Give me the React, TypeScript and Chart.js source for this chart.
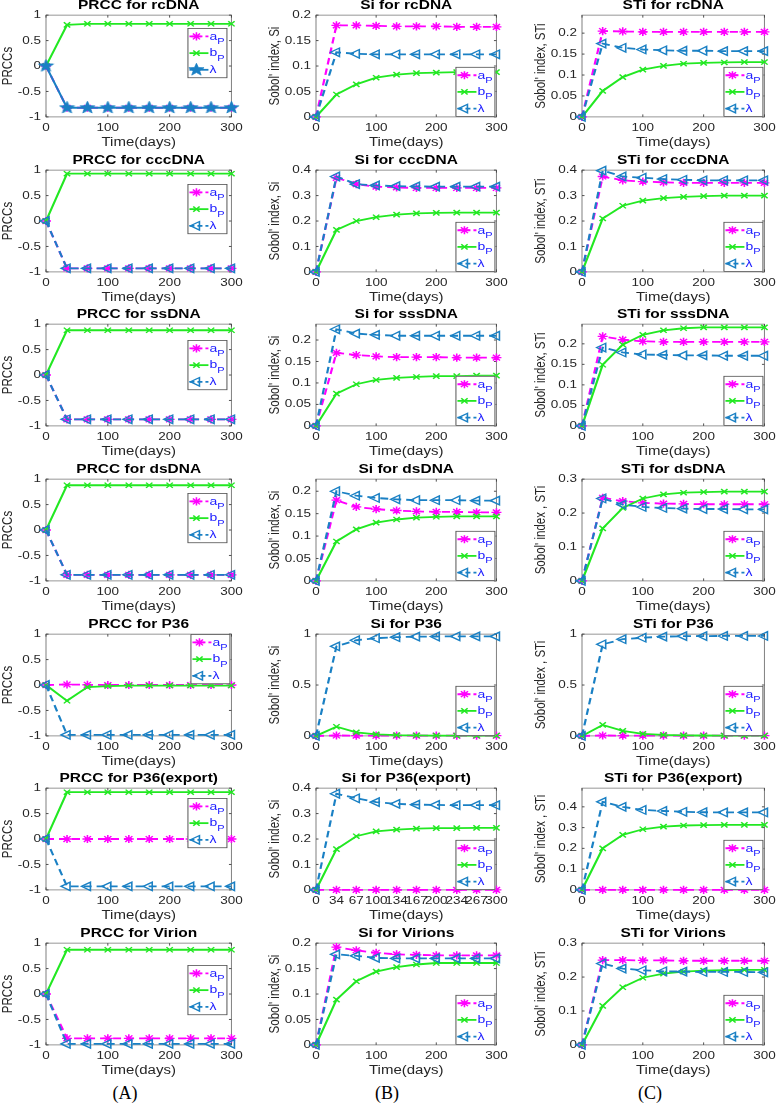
import React, { useEffect, useRef } from 'react';
import { Chart, registerables } from 'chart.js';
Chart.register(...registerables);

// ---------------- data ----------------
const DAYS = [0, 34, 67, 100, 134, 167, 200, 234, 267, 300];
const DAY_TICKS = [0, 100, 200, 300];

const PRCC_rcDNA_aP = [0, -0.82, -0.82, -0.82, -0.82, -0.82, -0.82, -0.82, -0.82, -0.82];
const PRCC_rcDNA_bP = [0, 0.81, 0.83, 0.83, 0.83, 0.83, 0.83, 0.83, 0.83, 0.83];
const PRCC_rcDNA_lam = [0, -0.82, -0.82, -0.82, -0.82, -0.82, -0.82, -0.82, -0.82, -0.82];
const PRCC_cccDNA_aP = [0, -0.93, -0.93, -0.93, -0.93, -0.93, -0.93, -0.93, -0.93, -0.93];
const PRCC_cccDNA_bP = [0, 0.93, 0.93, 0.93, 0.93, 0.93, 0.93, 0.93, 0.93, 0.93];
const PRCC_cccDNA_lam = [0, -0.93, -0.93, -0.93, -0.93, -0.93, -0.93, -0.93, -0.93, -0.93];
const PRCC_ssDNA_aP = [0, -0.87, -0.87, -0.87, -0.87, -0.87, -0.87, -0.87, -0.87, -0.87];
const PRCC_ssDNA_bP = [0, 0.88, 0.88, 0.88, 0.88, 0.88, 0.88, 0.88, 0.88, 0.88];
const PRCC_ssDNA_lam = [0, -0.87, -0.87, -0.87, -0.87, -0.87, -0.87, -0.87, -0.87, -0.87];
const PRCC_dsDNA_aP = [0, -0.88, -0.88, -0.88, -0.88, -0.88, -0.88, -0.88, -0.88, -0.88];
const PRCC_dsDNA_bP = [0, 0.88, 0.88, 0.88, 0.88, 0.88, 0.88, 0.88, 0.88, 0.88];
const PRCC_dsDNA_lam = [0, -0.88, -0.88, -0.88, -0.88, -0.88, -0.88, -0.88, -0.88, -0.88];
const PRCC_P36_aP = [0, 0.01, 0.005, 0, 0, 0, 0, 0, 0, 0];
const PRCC_P36_bP = [0, -0.31, -0.04, -0.02, -0.01, -0.01, -0.01, -0.01, -0.01, -0.01];
const PRCC_P36_lam = [0, -0.98, -0.98, -0.98, -0.98, -0.98, -0.98, -0.98, -0.98, -0.98];
const PRCC_P36exp_aP = [0, 0, 0, 0, 0, 0, 0, 0, 0, 0];
const PRCC_P36exp_bP = [0, 0.92, 0.92, 0.92, 0.92, 0.92, 0.92, 0.92, 0.92, 0.92];
const PRCC_P36exp_lam = [0, -0.93, -0.93, -0.93, -0.93, -0.93, -0.93, -0.93, -0.93, -0.93];
const PRCC_Virion_aP = [0, -0.87, -0.87, -0.87, -0.87, -0.87, -0.87, -0.87, -0.87, -0.87];
const PRCC_Virion_bP = [0, 0.87, 0.87, 0.87, 0.87, 0.87, 0.87, 0.87, 0.87, 0.87];
const PRCC_Virion_lam = [0, -0.98, -0.98, -0.98, -0.98, -0.98, -0.98, -0.98, -0.98, -0.98];

const Si_rcDNA_aP = [0, 0.18, 0.18, 0.179, 0.178, 0.178, 0.178, 0.177, 0.177, 0.177];
const Si_rcDNA_bP = [0, 0.044, 0.064, 0.077, 0.083, 0.086, 0.087, 0.088, 0.088, 0.088];
const Si_rcDNA_lam = [0, 0.127, 0.124, 0.123, 0.123, 0.123, 0.123, 0.123, 0.123, 0.123];
const Si_cccDNA_aP = [0, 0.37, 0.345, 0.335, 0.332, 0.33, 0.33, 0.33, 0.33, 0.33];
const Si_cccDNA_bP = [0, 0.165, 0.2, 0.215, 0.225, 0.23, 0.232, 0.233, 0.233, 0.233];
const Si_cccDNA_lam = [0, 0.375, 0.345, 0.34, 0.337, 0.336, 0.335, 0.335, 0.335, 0.335];
const Si_ssDNA_aP = [0, 0.17, 0.165, 0.162, 0.16, 0.16, 0.16, 0.159, 0.159, 0.159];
const Si_ssDNA_bP = [0, 0.075, 0.097, 0.107, 0.112, 0.114, 0.116, 0.116, 0.117, 0.117];
const Si_ssDNA_lam = [0, 0.225, 0.215, 0.212, 0.21, 0.21, 0.21, 0.21, 0.21, 0.21];
const Si_dsDNA_aP = [0, 0.18, 0.165, 0.16, 0.157, 0.155, 0.154, 0.154, 0.153, 0.153];
const Si_dsDNA_bP = [0, 0.088, 0.115, 0.13, 0.137, 0.141, 0.143, 0.144, 0.144, 0.144];
const Si_dsDNA_lam = [0, 0.2, 0.19, 0.185, 0.182, 0.18, 0.18, 0.18, 0.179, 0.179];
const Si_P36_aP = [0, 0.004, 0.003, 0.002, 0.002, 0.002, 0.002, 0.002, 0.002, 0.002];
const Si_P36_bP = [0, 0.09, 0.035, 0.015, 0.008, 0.005, 0.003, 0.003, 0.002, 0.002];
const Si_P36_lam = [0, 0.88, 0.94, 0.96, 0.97, 0.975, 0.977, 0.978, 0.978, 0.978];
const Si_P36exp_aP = [0, 0, 0, 0, 0, 0, 0, 0, 0, 0];
const Si_P36exp_bP = [0, 0.16, 0.211, 0.23, 0.237, 0.241, 0.243, 0.243, 0.244, 0.244];
const Si_P36exp_lam = [0, 0.378, 0.36, 0.345, 0.338, 0.335, 0.334, 0.333, 0.333, 0.333];
const Si_Virions_aP = [0, 0.192, 0.186, 0.181, 0.178, 0.177, 0.176, 0.176, 0.176, 0.176];
const Si_Virions_bP = [0, 0.089, 0.125, 0.144, 0.153, 0.158, 0.161, 0.161, 0.161, 0.161];
const Si_Virions_lam = [0, 0.178, 0.175, 0.171, 0.17, 0.17, 0.17, 0.17, 0.17, 0.17];

const STi_rcDNA_aP = [0, 0.205, 0.204, 0.203, 0.203, 0.203, 0.203, 0.203, 0.203, 0.203];
const STi_rcDNA_bP = [0, 0.062, 0.095, 0.113, 0.122, 0.127, 0.129, 0.13, 0.131, 0.131];
const STi_rcDNA_lam = [0, 0.175, 0.165, 0.161, 0.159, 0.158, 0.158, 0.157, 0.157, 0.157];
const STi_cccDNA_aP = [0, 0.375, 0.36, 0.355, 0.352, 0.35, 0.35, 0.35, 0.35, 0.35];
const STi_cccDNA_bP = [0, 0.21, 0.26, 0.28, 0.29, 0.295, 0.298, 0.3, 0.3, 0.3];
const STi_cccDNA_lam = [0, 0.398, 0.375, 0.37, 0.365, 0.362, 0.36, 0.36, 0.36, 0.36];
const STi_ssDNA_aP = [0, 0.218, 0.21, 0.206, 0.205, 0.205, 0.205, 0.205, 0.205, 0.205];
const STi_ssDNA_bP = [0, 0.149, 0.198, 0.222, 0.233, 0.238, 0.24, 0.24, 0.24, 0.24];
const STi_ssDNA_lam = [0, 0.191, 0.179, 0.174, 0.173, 0.172, 0.172, 0.171, 0.171, 0.171];
const STi_dsDNA_aP = [0, 0.245, 0.235, 0.23, 0.228, 0.227, 0.226, 0.226, 0.226, 0.226];
const STi_dsDNA_bP = [0, 0.155, 0.215, 0.243, 0.255, 0.26, 0.262, 0.263, 0.263, 0.263];
const STi_dsDNA_lam = [0, 0.243, 0.225, 0.218, 0.215, 0.213, 0.212, 0.212, 0.211, 0.211];
const STi_P36_aP = [0, 0.004, 0.003, 0.002, 0.002, 0.002, 0.002, 0.002, 0.002, 0.002];
const STi_P36_bP = [0, 0.108, 0.05, 0.02, 0.01, 0.005, 0.004, 0.003, 0.003, 0.003];
const STi_P36_lam = [0, 0.9, 0.95, 0.965, 0.975, 0.98, 0.981, 0.982, 0.982, 0.982];
const STi_P36exp_aP = [0, 0, 0, 0, 0, 0, 0, 0, 0, 0];
const STi_P36exp_bP = [0, 0.2, 0.265, 0.292, 0.305, 0.31, 0.312, 0.313, 0.313, 0.313];
const STi_P36exp_lam = [0, 0.424, 0.4, 0.385, 0.38, 0.376, 0.374, 0.373, 0.373, 0.373];
const STi_Virions_aP = [0, 0.25, 0.25, 0.249, 0.249, 0.248, 0.248, 0.248, 0.248, 0.248];
const STi_Virions_bP = [0, 0.115, 0.17, 0.198, 0.21, 0.216, 0.219, 0.22, 0.221, 0.221];
const STi_Virions_lam = [0, 0.24, 0.225, 0.22, 0.217, 0.216, 0.215, 0.215, 0.215, 0.214];

const TITLES_A = ['PRCC for rcDNA', 'PRCC for cccDNA', 'PRCC for ssDNA', 'PRCC for dsDNA', 'PRCC for P36', 'PRCC for P36(export)', 'PRCC for Virion'];
const TITLES_B = ['Si for rcDNA', 'Si for cccDNA', 'Si for sssDNA', 'Si for dsDNA', 'Si for P36', 'Si for P36(export)', 'Si for Virions'];
const TITLES_C = ['STi for rcDNA', 'STi for cccDNA', 'STi for sssDNA', 'STi for dsDNA', 'STi for P36', 'STi for P36(export)', 'STi for Virions'];
const YLAB_A = 'PRCCs';
const YLAB_B = "Sobol' index, Si";
const YLAB_C = ["Sobol' index, STi", "Sobol' index, STi", "Sobol' index, STi", "Sobol' index , STi", "Sobol' index , STi", "Sobol' index , STi", "Sobol' index, STi"];
const XLAB = 'Time(days)';
const LEGEND_MAIN = ['a', 'b', 'λ'];
const LEGEND_SUB = ['P', 'P', ''];

const PRCC_MIN = -1, PRCC_MAX = 1, PRCC_STEP = 0.5;
const SI_MAX = [0.2, 0.4, 0.237, 0.227, 1, 0.4, 0.2];
const SI_STEP = [0.05, 0.1, 0.05, 0.05, 0.5, 0.1, 0.05];
const STI_MAX = [0.243, 0.4, 0.248, 0.3, 1, 0.49, 0.3];
const STI_STEP = [0.05, 0.1, 0.05, 0.1, 0.5, 0.1, 0.1];

const A_DATA = [
  [PRCC_rcDNA_aP, PRCC_rcDNA_bP, PRCC_rcDNA_lam],
  [PRCC_cccDNA_aP, PRCC_cccDNA_bP, PRCC_cccDNA_lam],
  [PRCC_ssDNA_aP, PRCC_ssDNA_bP, PRCC_ssDNA_lam],
  [PRCC_dsDNA_aP, PRCC_dsDNA_bP, PRCC_dsDNA_lam],
  [PRCC_P36_aP, PRCC_P36_bP, PRCC_P36_lam],
  [PRCC_P36exp_aP, PRCC_P36exp_bP, PRCC_P36exp_lam],
  [PRCC_Virion_aP, PRCC_Virion_bP, PRCC_Virion_lam],
];
const B_DATA = [
  [Si_rcDNA_aP, Si_rcDNA_bP, Si_rcDNA_lam],
  [Si_cccDNA_aP, Si_cccDNA_bP, Si_cccDNA_lam],
  [Si_ssDNA_aP, Si_ssDNA_bP, Si_ssDNA_lam],
  [Si_dsDNA_aP, Si_dsDNA_bP, Si_dsDNA_lam],
  [Si_P36_aP, Si_P36_bP, Si_P36_lam],
  [Si_P36exp_aP, Si_P36exp_bP, Si_P36exp_lam],
  [Si_Virions_aP, Si_Virions_bP, Si_Virions_lam],
];
const C_DATA = [
  [STi_rcDNA_aP, STi_rcDNA_bP, STi_rcDNA_lam],
  [STi_cccDNA_aP, STi_cccDNA_bP, STi_cccDNA_lam],
  [STi_ssDNA_aP, STi_ssDNA_bP, STi_ssDNA_lam],
  [STi_dsDNA_aP, STi_dsDNA_bP, STi_dsDNA_lam],
  [STi_P36_aP, STi_P36_bP, STi_P36_lam],
  [STi_P36exp_aP, STi_P36exp_bP, STi_P36exp_lam],
  [STi_Virions_aP, STi_Virions_bP, STi_Virions_lam],
];

// ---------------- layout / style ----------------
const S = 0.82; // vertical squash applied to each chart's drawing context
const FONT = "'Liberation Sans', Arial, Helvetica, sans-serif";
const COL_A = '#ff00ff';
const COL_B = '#22e822';
const COL_L = '#1a80c4';
const TXT = '#262626';
const LEG_TXT = '#2020ff';

const ROW0 = 15, PITCH = 154.7, PLOT_H = 102;
const TITLE_FS = 15.5, TITLE_PB = 2.3;
const TITLE_BLOCK = TITLE_FS * 1.2 + TITLE_PB;
const TICK_FS = 13.5;
const XT_FS = 15;
const YT_FS = 14;
const XAXIS_H = 40;
const RIGHT_PAD = 12;
const COLS = [
  { left: 0, yW: 46, plotW: 190, ytPad: 0 },
  { left: 262, yW: 54, plotW: 185, ytPad: 5 },
  { left: 528, yW: 54, plotW: 187, ytPad: 5 },
];
const A_LEG_DY = [13, 14, 16, 14, 0, 10, 22];

let PENT: HTMLCanvasElement | null = null;
function pentagram(): HTMLCanvasElement {
  if (PENT) return PENT;
  const c = document.createElement('canvas');
  c.width = 17; c.height = 17;
  const g = c.getContext('2d')!;
  drawStar(g, 8.5, 8.5, 8, COL_L);
  PENT = c;
  return c;
}
function drawStar(g: CanvasRenderingContext2D, x: number, y: number, R: number, color: string) {
  const r = R * 0.42;
  g.beginPath();
  for (let i = 0; i < 10; i++) {
    const rad = -Math.PI / 2 + (i * Math.PI) / 5;
    const rr = i % 2 === 0 ? R : r;
    const px = x + Math.cos(rad) * rr, py = y + Math.sin(rad) * rr;
    if (i === 0) g.moveTo(px, py); else g.lineTo(px, py);
  }
  g.closePath();
  g.fillStyle = color; g.fill();
  g.strokeStyle = color; g.lineWidth = 0.8; g.stroke();
}

function drawMarker(ctx: CanvasRenderingContext2D, kind: string, x: number, y: number, color: string) {
  ctx.save();
  ctx.setLineDash([]);
  ctx.strokeStyle = color; ctx.lineWidth = 1.6;
  ctx.beginPath();
  if (kind === 'ast') {
    const r = 5;
    for (let k = 0; k < 4; k++) {
      const a = (k * Math.PI) / 4;
      ctx.moveTo(x - Math.cos(a) * r, y - Math.sin(a) * r);
      ctx.lineTo(x + Math.cos(a) * r, y + Math.sin(a) * r);
    }
    ctx.stroke();
  } else if (kind === 'x') {
    const d = 4.5 * Math.SQRT1_2;
    ctx.moveTo(x - d, y - d); ctx.lineTo(x + d, y + d);
    ctx.moveTo(x + d, y - d); ctx.lineTo(x - d, y + d);
    ctx.stroke();
  } else if (kind === 'tri') {
    const r = 6;
    let rad = -Math.PI / 2;
    for (let i = 0; i < 3; i++) {
      const px = x + Math.sin(rad) * r, py = y - Math.cos(rad) * r;
      if (i === 0) ctx.moveTo(px, py); else ctx.lineTo(px, py);
      rad += (2 * Math.PI) / 3;
    }
    ctx.closePath();
    ctx.stroke();
  } else if (kind === 'pent') {
    drawStar(ctx, x, y, 8, color);
  }
  ctx.restore();
}

const framePlugin = {
  id: 'frame',
  beforeDatasetsDraw(chart: any) {
    const { ctx, chartArea: ca, scales } = chart;
    ctx.save();
    ctx.strokeStyle = '#808080';
    ctx.lineWidth = 1;
    ctx.strokeRect(ca.left, ca.top, ca.right - ca.left, ca.bottom - ca.top);
    ctx.strokeStyle = '#404040';
    ctx.beginPath();
    scales.x.ticks.forEach((t: any) => {
      const px = scales.x.getPixelForValue(t.value);
      ctx.moveTo(px, ca.bottom); ctx.lineTo(px, ca.bottom - 2.5 / S);
      ctx.moveTo(px, ca.top); ctx.lineTo(px, ca.top + 2.5 / S);
    });
    scales.y.ticks.forEach((t: any) => {
      const py = scales.y.getPixelForValue(t.value);
      ctx.moveTo(ca.left, py); ctx.lineTo(ca.left + 2.5, py);
      ctx.moveTo(ca.right, py); ctx.lineTo(ca.right - 2.5, py);
    });
    ctx.stroke();
    ctx.restore();
  },
};

const legendPlugin = {
  id: 'miniLegend',
  afterDatasetsDraw(chart: any, _args: any, opts: any) {
    const { ctx, chartArea: ca } = chart;
    const W = 40, H = 50 / S;
    const right = ca.right - opts.insetR;
    const left = right - W;
    const top = opts.pos === 'se' ? ca.bottom - opts.insetB / S - H : ca.top + opts.dy / S;
    ctx.save();
    ctx.fillStyle = '#ffffff';
    ctx.fillRect(left, top, W, H);
    ctx.strokeStyle = '#555555';
    ctx.lineWidth = 1;
    ctx.strokeRect(left + 0.5, top + 0.5, W - 1, H - 1);
    const colors = [COL_A, COL_B, COL_L];
    const dashed = [true, false, !opts.star];
    const markers = ['ast', 'x', opts.star ? 'pent' : 'tri'];
    for (let i = 0; i < 3; i++) {
      const cy = top + (H * (i + 0.5)) / 3;
      const x0 = left + 2, x1 = left + 21, xm = left + 9;
      ctx.strokeStyle = colors[i];
      ctx.lineWidth = 2.2;
      ctx.setLineDash(dashed[i] ? [5, 3] : []);
      ctx.beginPath(); ctx.moveTo(x0, cy); ctx.lineTo(x1, cy); ctx.stroke();
      ctx.setLineDash([]);
      drawMarker(ctx, markers[i], xm, cy, colors[i]);
      ctx.fillStyle = LEG_TXT;
      ctx.textBaseline = 'alphabetic';
      ctx.textAlign = 'left';
      ctx.font = `14px ${FONT}`;
      ctx.fillText(LEGEND_MAIN[i], left + 22, cy + 4);
      if (LEGEND_SUB[i]) {
        const w = ctx.measureText(LEGEND_MAIN[i]).width;
        ctx.font = `11px ${FONT}`;
        ctx.fillText(LEGEND_SUB[i], left + 22 + w, cy + 9);
      }
    }
    ctx.restore();
  },
};

function fmt(v: any) {
  return String(parseFloat(Number(v).toFixed(3)));
}

type PanelCfg = {
  row: number; col: number; title: string; ylab: string;
  ymin: number; ymax: number; ystep: number;
  series: number[][]; star: boolean; dayTicks: boolean; leg: any;
};

const PANELS: PanelCfg[] = [];
for (let r = 0; r < 7; r++) {
  PANELS.push({
    row: r, col: 0, title: TITLES_A[r], ylab: YLAB_A,
    ymin: PRCC_MIN, ymax: PRCC_MAX, ystep: PRCC_STEP,
    series: A_DATA[r], star: r === 0, dayTicks: false,
    leg: { pos: 'ne', dy: A_LEG_DY[r], insetR: r === 4 ? 1 : 4, star: r === 0 },
  });
  PANELS.push({
    row: r, col: 1, title: TITLES_B[r], ylab: YLAB_B,
    ymin: 0, ymax: SI_MAX[r], ystep: SI_STEP[r],
    series: B_DATA[r], star: false, dayTicks: r === 5,
    leg: { pos: 'se', insetR: 1, insetB: 0, star: false },
  });
  PANELS.push({
    row: r, col: 2, title: TITLES_C[r], ylab: YLAB_C[r],
    ymin: 0, ymax: STI_MAX[r], ystep: STI_STEP[r],
    series: C_DATA[r], star: false, dayTicks: false,
    leg: { pos: 'se', insetR: 1, insetB: 0, star: false },
  });
}

function makeDataset(vals: number[], color: string, style: any, dashed: boolean, order: number, radius: number, rotation: number, hollow: boolean) {
  return {
    data: DAYS.map((x, i) => ({ x, y: vals[i] })),
    borderColor: color,
    backgroundColor: color,
    borderWidth: 2.2,
    borderDash: dashed ? [8, 5] : [],
    pointStyle: style,
    pointRadius: radius,
    pointBorderWidth: 1.6,
    pointBorderColor: color,
    pointBackgroundColor: hollow ? 'rgba(0,0,0,0)' : color,
    pointRotation: rotation,
    order,
    clip: false as any,
    tension: 0,
    fill: false,
  };
}

function Panel({ p }: { p: PanelCfg }) {
  const ref = useRef<HTMLCanvasElement>(null);
  const col = COLS[p.col];
  const top = Math.round(ROW0 + p.row * PITCH - TITLE_BLOCK * S);
  const width = col.yW + col.plotW + RIGHT_PAD;
  const layoutH = Math.round(TITLE_BLOCK + PLOT_H / S + XAXIS_H);
  const realH = Math.ceil(layoutH * S);

  useEffect(() => {
    const canvas = ref.current as HTMLCanvasElement;
    canvas.width = width;
    canvas.height = layoutH;
    const [a, b, l] = p.series;
    const chart = new Chart(canvas, {
      type: 'line',
      data: {
        datasets: [
          makeDataset(a, COL_A, 'star', true, 3, 5, 0, false),
          makeDataset(b, COL_B, 'crossRot', false, 2, 4.5, 0, false),
          p.star
            ? makeDataset(l, COL_L, pentagram(), false, 1, 7, 0, false)
            : makeDataset(l, COL_L, 'triangle', true, 1, 6, -90, true),
        ] as any,
      },
      options: {
        animation: false,
        responsive: false,
        devicePixelRatio: 1,
        events: [],
        layout: { padding: { left: 0, top: 0, bottom: 0, right: RIGHT_PAD } },
        plugins: {
          legend: { display: false },
          tooltip: { enabled: false },
          title: {
            display: true,
            text: p.title,
            fullSize: false,
            color: '#000000',
            font: { family: FONT, size: TITLE_FS, weight: 'bold' },
            padding: { top: 0, bottom: TITLE_PB },
          },
          miniLegend: p.leg,
        } as any,
        scales: {
          x: {
            type: 'linear',
            min: 0,
            max: 300,
            grid: { display: false, drawTicks: false },
            border: { display: false },
            afterBuildTicks: (scale: any) => {
              const vals = p.dayTicks ? DAYS : DAY_TICKS;
              scale.ticks = vals.map((v) => ({ value: v }));
            },
            afterFit: (scale: any) => { scale.height = XAXIS_H; },
            ticks: {
              autoSkip: false,
              maxRotation: 0,
              minRotation: 0,
              padding: 5.3,
              color: TXT,
              font: { family: FONT, size: TICK_FS },
              callback: (v: any) => fmt(v),
            },
            title: {
              display: true,
              text: XLAB,
              color: TXT,
              font: { family: FONT, size: XT_FS },
              padding: { top: 0, bottom: 0 },
            },
          },
          y: {
            type: 'linear',
            min: p.ymin,
            max: p.ymax,
            grid: { display: false, drawTicks: false },
            border: { display: false },
            afterFit: (scale: any) => { scale.width = col.yW; },
            ticks: {
              stepSize: p.ystep,
              includeBounds: false,
              padding: 5,
              color: TXT,
              font: { family: FONT, size: TICK_FS },
              callback: (v: any) => fmt(v),
            },
            title: {
              display: true,
              text: p.ylab,
              color: TXT,
              font: { family: FONT, size: YT_FS },
              padding: { top: col.ytPad, bottom: 0 },
            },
          },
        },
      } as any,
      plugins: [framePlugin, legendPlugin],
    });
    // redraw the laid-out chart squashed vertically (vector, no resampling)
    canvas.height = realH;
    canvas.style.width = `${width}px`;
    canvas.style.height = `${realH}px`;
    const ctx = canvas.getContext('2d') as CanvasRenderingContext2D;
    ctx.setTransform(1, 0, 0, S, 0, 0);
    chart.draw();
    return () => chart.destroy();
  }, []);

  return (
    <canvas
      ref={ref}
      style={{ position: 'absolute', left: col.left, top, display: 'block' }}
    />
  );
}

const PANEL_LETTERS = ['(A)', '(B)', '(C)'];
const LETTER_X = [125, 387, 650];

export default function App() {
  return (
    <div style={{ position: 'absolute', left: 0, top: 0, width: 781, height: 1105, overflow: 'hidden', background: '#fff' }}>
      {PANELS.map((p, i) => <Panel key={i} p={p} />)}
      {PANEL_LETTERS.map((t, i) => (
        <div
          key={t}
          style={{
            position: 'absolute', left: LETTER_X[i] - 25, top: 1082, width: 50, textAlign: 'center',
            fontFamily: "'Liberation Serif', 'Times New Roman', serif", fontSize: 18, lineHeight: '22px', color: '#000',
          }}
        >
          {t}
        </div>
      ))}
    </div>
  );
}
